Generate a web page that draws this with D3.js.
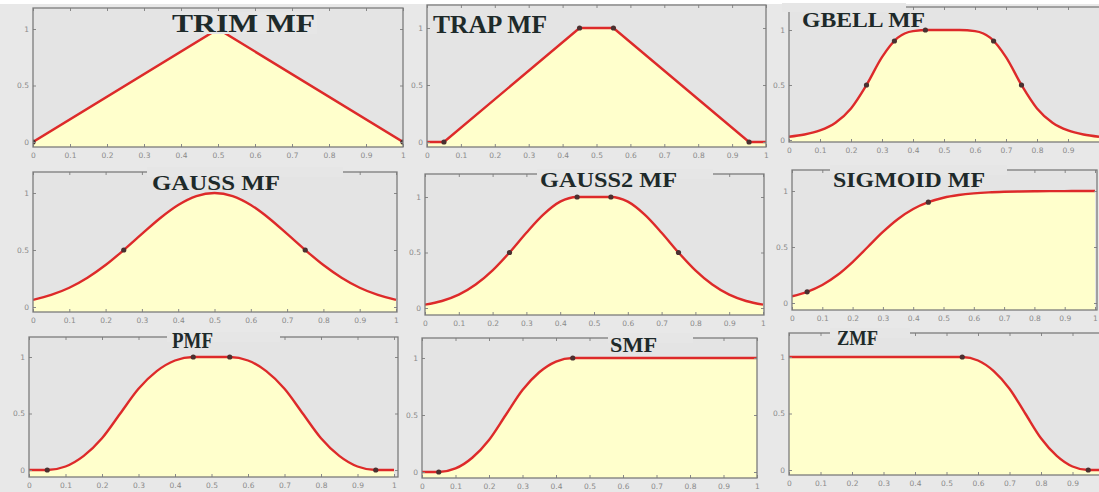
<!DOCTYPE html>
<html><head><meta charset="utf-8">
<script src="https://cdn.jsdelivr.net/npm/d3@7"></script>
<style>
html,body{margin:0;padding:0;background:#e8e8e8;}
svg{display:block;}
</style></head><body>
<svg id="c" width="1099" height="492"></svg>
<script>
// ---------------- data ----------------
const titles = ["TRIM MF","TRAP MF","GBELL MF","GAUSS MF","GAUSS2 MF","SIGMOID MF","PMF","SMF","ZMF"];
const xTicks = [0,0.1,0.2,0.3,0.4,0.5,0.6,0.7,0.8,0.9,1];
const xTickLabels = ["0","0.1","0.2","0.3","0.4","0.5","0.6","0.7","0.8","0.9","1"];
const yTicks = [0,0.5,1];
const yTickLabels = ["0","0.5","1"];

const sampleX = [0,0.05,0.1,0.15,0.2,0.25,0.3,0.35,0.4,0.45,0.5,0.55,0.6,0.65,0.7,0.75,0.8,0.85,0.9,0.95,1];

const trimX = [0,0.5,1];
const trimY = [0,1,0];
const trapX = [0,0.05,0.45,0.55,0.95,1];
const trapY = [0,0,1,1,0,0];
const gbellY   = [0.030,0.050,0.087,0.157,0.287,0.5,0.753,0.928,0.990,1,1,1,0.990,0.928,0.753,0.5,0.287,0.157,0.087,0.050,0.030];
const gaussY   = [0.062,0.106,0.169,0.257,0.368,0.5,0.641,0.779,0.895,0.973,1,0.973,0.895,0.779,0.641,0.5,0.368,0.257,0.169,0.106,0.062];
const gauss2Y  = [0.030,0.063,0.120,0.211,0.339,0.5,0.678,0.841,0.958,1,1,1,0.958,0.841,0.678,0.5,0.339,0.211,0.120,0.063,0.030];
const sigmoidY = [0.060,0.100,0.161,0.250,0.366,0.5,0.634,0.750,0.839,0.9,0.940,0.964,0.979,0.988,0.993,0.996,0.998,0.999,0.999,1,1];
const pimfY    = [0,0,0.031,0.125,0.281,0.5,0.719,0.875,0.969,1,1,1,0.969,0.875,0.719,0.5,0.281,0.125,0.031,0,0];
const smfY     = [0,0,0.031,0.125,0.281,0.5,0.719,0.875,0.969,1,1,1,1,1,1,1,1,1,1,1,1];
const zmfY     = [1,1,1,1,1,1,1,1,1,1,1,1,0.969,0.875,0.719,0.5,0.281,0.125,0.031,0,0];

// parameter markers
const trimMarkX = [0,1],                 trimMarkY = [0,0];
const trapMarkX = [0.05,0.45,0.55,0.95], trapMarkY = [0,1,1,0];
const gbellMarkX = [0.25,0.34,0.44,0.66,0.75], gbellMarkY = [0.5,0.9,1,0.9,0.5];
const gaussMarkX = [0.25,0.75],          gaussMarkY = [0.5,0.5];
const gauss2MarkX = [0.25,0.45,0.55,0.75], gauss2MarkY = [0.5,1,1,0.5];
const sigmoidMarkX = [0.05,0.45],        sigmoidMarkY = [0.1,0.9];
const pimfMarkX = [0.05,0.45,0.55,0.95], pimfMarkY = [0,1,1,0];
const smfMarkX = [0.05,0.45],            smfMarkY = [0,1];
const zmfMarkX = [0.55,0.95],            zmfMarkY = [1,0];

const series = [
  {xs: trimX, ys: trimY, mx: trimMarkX, my: trimMarkY, smooth: false},
  {xs: trapX, ys: trapY, mx: trapMarkX, my: trapMarkY, smooth: false},
  {xs: sampleX, ys: gbellY, mx: gbellMarkX, my: gbellMarkY, smooth: true},
  {xs: sampleX, ys: gaussY, mx: gaussMarkX, my: gaussMarkY, smooth: true},
  {xs: sampleX, ys: gauss2Y, mx: gauss2MarkX, my: gauss2MarkY, smooth: true},
  {xs: sampleX, ys: sigmoidY, mx: sigmoidMarkX, my: sigmoidMarkY, smooth: true},
  {xs: sampleX, ys: pimfY, mx: pimfMarkX, my: pimfMarkY, smooth: true},
  {xs: sampleX, ys: smfY, mx: smfMarkX, my: smfMarkY, smooth: true},
  {xs: sampleX, ys: zmfY, mx: zmfMarkX, my: zmfMarkY, smooth: true}
];

// ---------------- layout ----------------
// box: [left, top, right, bottom]; xr: pixel of x=0 / x=1; yr: pixel of y=0 / y=1
const layout = [
  {box:[33,8,403,147],   xr:[33,403],  yr:[142,29],  t:{cx:243.5,base:32,size:25,len:143}, bg:[170,317,12,34]},
  {box:[427,5,766,147],  xr:[427,766], yr:[142,28],  t:{cx:490,base:33,size:25,len:114},   bg:null},
  {box:[789,7,1102,142], xr:[789,1099],yr:[140,30],  t:{cx:863.5,base:27,size:20,len:123}, bg:[782,906,3,12]},
  {box:[33,172,397,312], xr:[33,396],  yr:[307,193], t:{cx:216,base:190,size:21,len:128},  bg:[147,343,167,177]},
  {box:[425,174,764,315],xr:[425,763], yr:[308,197], t:{cx:608.5,base:187,size:21,len:137},bg:[537,713,169,179]},
  {box:[792,170,1097,310],xr:[792,1095],yr:[303,191],t:{cx:909,base:187,size:21,len:152},  bg:[830,1007,165,175]},
  {box:[29,337,398,477], xr:[29,394],  yr:[470,357], t:{cx:192.5,base:348,size:23,len:41}, bg:[167,280,332,342]},
  {box:[422,338,757,478],xr:[422,757], yr:[472,358], t:{cx:633.5,base:352,size:21,len:47}, bg:[608,693,333,343]},
  {box:[789,333,1106,475],xr:[789,1104],yr:[470,357],t:{cx:857.5,base:345,size:20,len:41}, bg:[830,910,328,338]}
];

const svg = d3.select("#c");
svg.append("rect").attr("x",0).attr("y",0).attr("width",1099).attr("height",492).attr("fill","#e8e8e8");
svg.append("rect").attr("x",0).attr("y",0).attr("width",1099).attr("height",4).attr("fill","#ffffff");

const RED = "#dd2a2a";
const W = 1099;

layout.forEach((L, i) => {
  const s = series[i];
  const [bl, bt, br, bb] = L.box;
  const x = d3.scaleLinear().domain([0,1]).range(L.xr);
  const y = d3.scaleLinear().domain([0,1]).range(L.yr);
  const g = svg.append("g");
  const clipId = "clip" + i;
  g.append("clipPath").attr("id", clipId).append("rect")
    .attr("x", bl).attr("y", bt).attr("width", br - bl).attr("height", bb - bt);

  // plot background
  g.append("rect").attr("x", bl).attr("y", bt).attr("width", br - bl).attr("height", bb - bt)
    .attr("fill", "#e4e4e4");

  const pts = s.xs.map((v, k) => [v, s.ys[k]]);
  const curve = s.smooth ? d3.curveMonotoneX : d3.curveLinear;
  const pg = g.append("g").attr("clip-path", `url(#${clipId})`);
  pg.append("path").datum(pts)
    .attr("d", d3.area().x(d => x(d[0])).y0(bb).y1(d => y(d[1])).curve(curve))
    .attr("fill", "#ffffcc");
  pg.append("path").datum(pts)
    .attr("d", d3.line().x(d => x(d[0])).y(d => y(d[1])).curve(curve))
    .attr("fill", "none").attr("stroke", RED).attr("stroke-width", 2.4);
  pg.selectAll("circle").data(s.mx.map((v, k) => [v, s.my[k]])).enter().append("circle")
    .attr("cx", d => x(d[0])).attr("cy", d => y(d[1])).attr("r", 2.6)
    .attr("fill", "#4a3030");

  // axes (ticks inward); labels that would fall beyond the picture edge are not shown
  const visTicks = xTicks.filter(d => x(d) + 3 <= W);
  const fmtX = (d) => xTickLabels[xTicks.indexOf(d)];
  const fmtY = (d) => yTickLabels[yTicks.indexOf(d)];
  const ax = g.append("g").attr("transform", `translate(0,${bb})`)
    .call(d3.axisBottom(x).tickValues(visTicks).tickFormat(fmtX).tickSizeInner(-3).tickSizeOuter(0).tickPadding(6));
  const axTop = g.append("g").attr("transform", `translate(0,${bt})`)
    .call(d3.axisTop(x).tickValues(visTicks).tickFormat("").tickSizeInner(-3).tickSizeOuter(0));
  const ay = g.append("g").attr("transform", `translate(${bl},0)`)
    .call(d3.axisLeft(y).tickValues(yTicks).tickFormat(fmtY).tickSizeInner(-3).tickSizeOuter(0).tickPadding(4));
  const ayR = g.append("g").attr("transform", `translate(${br},0)`)
    .call(d3.axisRight(y).tickValues(yTicks).tickFormat("").tickSizeInner(-3).tickSizeOuter(0));
  [ax, axTop, ay, ayR].forEach(a => {
    a.select(".domain").remove();
    a.selectAll("line").attr("stroke", "#888");
    a.selectAll("text").attr("fill", "#8a8a8a").style("font-family", "DejaVu Sans, sans-serif").style("font-size", "7.5px");
  });

  // box
  g.append("rect").attr("x", bl).attr("y", bt).attr("width", br - bl).attr("height", bb - bt)
    .attr("fill", "none").attr("stroke", "#7c7c7c").attr("stroke-width", 1.3);

  // title
  if (L.bg) {
    g.append("rect").attr("x", L.bg[0]).attr("y", L.bg[2]).attr("width", L.bg[1] - L.bg[0]).attr("height", L.bg[3] - L.bg[2])
      .attr("fill", "#e6e6e6");
  }
  g.append("text").attr("x", L.t.cx).attr("y", L.t.base).attr("text-anchor", "middle")
    .attr("textLength", L.t.len).attr("lengthAdjust", "spacingAndGlyphs")
    .style("font-family", "Liberation Serif, Times New Roman, serif").style("font-weight", "bold")
    .style("font-size", L.t.size + "px").attr("fill", "#1e2a2a")
    .text(titles[i]);
});
</script>
</body></html>
